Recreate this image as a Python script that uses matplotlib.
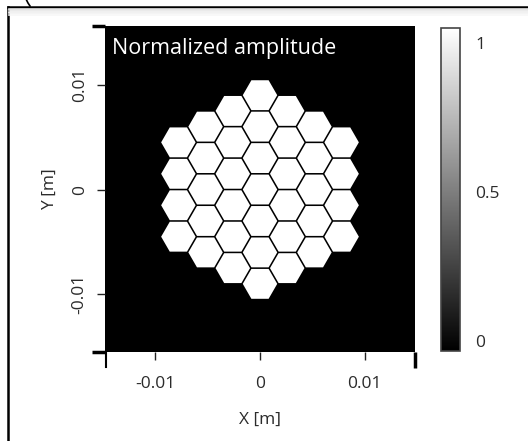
import numpy as np
import matplotlib
matplotlib.use("Agg")
import matplotlib.pyplot as plt
from matplotlib.patches import RegularPolygon
from matplotlib.lines import Line2D
import matplotlib.cm as cm
from matplotlib.colors import Normalize

plt.rcParams['font.family'] = ['Open Sans', 'DejaVu Sans']

# ---- data ----
col_index = [-3, -2, -1, 0, 1, 2, 3]          # hexagon columns
col_counts = [4, 5, 6, 7, 6, 5, 4]            # segments per column
segment_pitch = 0.003                          # m, flat-to-flat spacing
segment_size = 0.00285                         # m, flat-to-flat size
amplitude = 1.0                                # normalized amplitude of each segment
xticks = [-0.01, 0, 0.01]
xticklabels = ['-0.01', '0', '0.01']
yticks = [-0.01, 0, 0.01]
yticklabels = ['-0.01', '0', '0.01']
cbar_ticks = [0, 0.5, 1]
cbar_ticklabels = ['0', '0.5', '1']
cbar_range = (-0.034, 1.05)
xlim = (-0.0148, 0.0148)
ylim = (-0.0155, 0.0156)

W, H = 528, 441
fig = plt.figure(figsize=(W / 100, H / 100), dpi=100)
fig.patch.set_facecolor('white')

ax = fig.add_axes([105 / W, 1 - 352 / H, 310 / W, 326 / H])
ax.set_facecolor('black')
cmap = plt.get_cmap('gray')
norm = Normalize(0, 1)

r = segment_size / np.sqrt(3)
for c, n in zip(col_index, col_counts):
    x0 = c * segment_pitch * np.sqrt(3) / 2
    for k in range(n):
        y0 = (k - (n - 1) / 2) * segment_pitch
        ax.add_patch(RegularPolygon((x0, y0), numVertices=6, radius=r,
                                    orientation=np.pi / 6,
                                    facecolor=cmap(norm(amplitude)),
                                    edgecolor='none'))

ax.set_xlim(*xlim)
ax.set_ylim(*ylim)
ax.set_aspect('auto')
for s in ax.spines.values():
    s.set_visible(False)

tick_color = '#2b2b2b'
ax.set_xticks(xticks)
ax.set_xticklabels(xticklabels)
ax.set_yticks(yticks)
ax.set_yticklabels(yticklabels, rotation=90, va='center')
ax.tick_params(axis='both', direction='out', length=6, width=1,
               color='#222222', labelcolor=tick_color, labelsize=12.5)
ax.tick_params(axis='x', pad=11)
ax.tick_params(axis='y', pad=6.5)
ax.set_xlabel('X [m]', fontsize=12.5, color=tick_color, labelpad=14.5)
ax.set_ylabel('Y [m]', fontsize=12.5, color=tick_color, labelpad=10)

ax.text(0.024, 0.914, 'Normalized amplitude', transform=ax.transAxes,
        color='white', fontsize=15.5, va='baseline', ha='left')

# corner tick marks at axis limits
kw = dict(transform=fig.transFigure, color='black', lw=2.5, clip_on=False,
          solid_capstyle='butt')
fig.add_artist(Line2D([92 / W, 105 / W], [1 - 352 / H, 1 - 352 / H], **kw))
fig.add_artist(Line2D([92 / W, 105 / W], [1 - 26 / H, 1 - 26 / H], **kw))
fig.add_artist(Line2D([105.5 / W, 105.5 / W], [1 - 352 / H, 1 - 367 / H],
                      transform=fig.transFigure, color='black', lw=1.5))
fig.add_artist(Line2D([415 / W, 415 / W], [1 - 352 / H, 1 - 368 / H], **kw))

# colorbar
cax = fig.add_axes([441 / W, 1 - 351 / H, 19 / W, 323 / H])
sm = cm.ScalarMappable(norm=Normalize(*cbar_range), cmap=cmap)
cb = fig.colorbar(sm, cax=cax, ticks=cbar_ticks)
cb.ax.set_yticklabels(cbar_ticklabels)
cb.ax.tick_params(length=0, pad=11, labelsize=12.5, labelcolor=tick_color)
cb.outline.set_edgecolor('#444444')
cb.outline.set_linewidth(1.2)

# outer frame decoration
fkw = dict(transform=fig.transFigure, color='black', lw=1.8)
fig.add_artist(Line2D([8 / W, 8 / W], [0, 1 - 6.5 / H], **fkw))
fig.add_artist(Line2D([8 / W, 1], [1 - 6.5 / H, 1 - 6.5 / H], **fkw))
for i, g in enumerate([0.86, 0.9, 0.93, 0.95, 0.97]):
    fig.add_artist(Line2D([9 / W, 1], [1 - (8.5 + i * 1.5) / H] * 2,
                          transform=fig.transFigure, color=str(g), lw=1.2))
fig.add_artist(Line2D([26.5 / W, 28 / W, 30 / W], [1, 1 - 3 / H, 1 - 6 / H],
                      transform=fig.transFigure, color='black', lw=1.2))

fig.savefig('out.png', dpi=100)
